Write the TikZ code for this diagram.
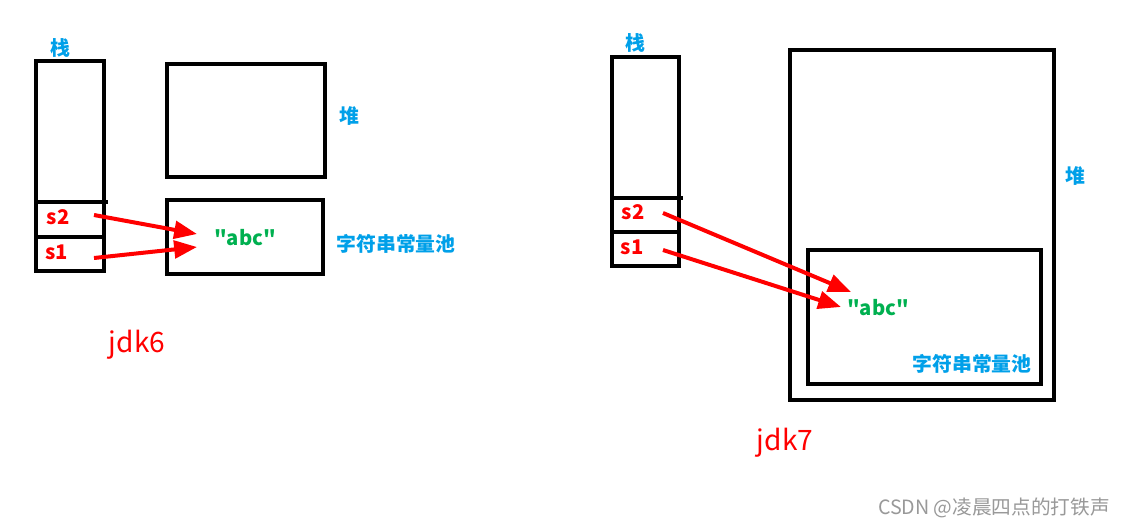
\documentclass[tikz,border=0pt]{standalone}
\usepackage{fontspec}
\newfontfamily\cjk{Noto Sans CJK SC}
\usetikzlibrary{arrows.meta}
\definecolor{skyblue}{RGB}{0,160,233}
\definecolor{strgreen}{RGB}{0,176,80}

\begin{document}
\begin{tikzpicture}[x=0.02cm, y=-0.02cm]
	\tikzset{box/.style={draw, line width=0.08cm}}
	\tikzset{area/.style={font=\cjk\bfseries\fontsize{11.3}{13}\selectfont, text=skyblue}}
	\tikzset{ref/.style={font=\cjk\bfseries\fontsize{11.5}{13}\selectfont, text=red}}
	\tikzset{val/.style={font=\cjk\bfseries\fontsize{11.5}{13}\selectfont, text=strgreen}}
	\tikzset{ver/.style={font=\cjk\fontsize{16}{19}\selectfont, text=red}}
	\tikzset{point/.style={draw=red, line width=0.08cm, -{Triangle[length=13pt, width=10pt]}}}
	\fill[white] (0,0) rectangle (1125,528);
	%jdk6: stack
	\draw[box] (36,61) rectangle (104,271);
	\draw[box] (36,202) -- (108,202);
	\draw[box] (36,237) -- (104,237);
	\node[area] (stack6) at (60,48) {栈};
	\node[ref] (s2a) at (58,217) {s2};
	\node[ref] (s1a) at (57,252) {s1};
	%jdk6: heap and pool
	\draw[box] (167,64) rectangle (325,177);
	\draw[box] (167,200) rectangle (323,274);
	\node[area] (heap6) at (349,116) {堆};
	\node[area] (pool6) at (396,244) {字符串常量池};
	\node[val] (abc6) at (245,238) {"abc"};
	\coordinate (s2a-out) at (94,215);
	\coordinate (s1a-out) at (94,258);
	\coordinate (abc6-in2) at (197,234);
	\coordinate (abc6-in1) at (197,247);
	\draw[point] (s2a-out) -- (abc6-in2);
	\draw[point] (s1a-out) -- (abc6-in1);
	\node[ver] (jdk6) at (137,345) {jdk6};
	%jdk7: stack
	\draw[box] (612,57) rectangle (679,266);
	\draw[box] (612,198) -- (683,198);
	\draw[box] (612,232) -- (679,232);
	\node[area] (stack7) at (635,43) {栈};
	\node[ref] (s2b) at (633,212) {s2};
	\node[ref] (s1b) at (632,247) {s1};
	%jdk7: heap with pool inside
	\draw[box] (790,50) rectangle (1054,400);
	\draw[box] (808,250) rectangle (1041,384);
	\node[area] (heap7) at (1075,176) {堆};
	\node[area] (pool7) at (972,364) {字符串常量池};
	\node[val] (abc7) at (878,308) {"abc"};
	\coordinate (s2b-out) at (663,213);
	\coordinate (s1b-out) at (663,250);
	\coordinate (abc7-in2) at (851,292);
	\coordinate (abc7-in1) at (841,307);
	\draw[point] (s2b-out) -- (abc7-in2);
	\draw[point] (s1b-out) -- (abc7-in1);
	\node[ver] (jdk7) at (785,443) {jdk7};
	%watermark
	\node[font=\cjk\fontsize{11.2}{13}\selectfont, text=black!40] (mark) at (994,508) {CSDN @凌晨四点的打铁声};
\end{tikzpicture}
\end{document}
